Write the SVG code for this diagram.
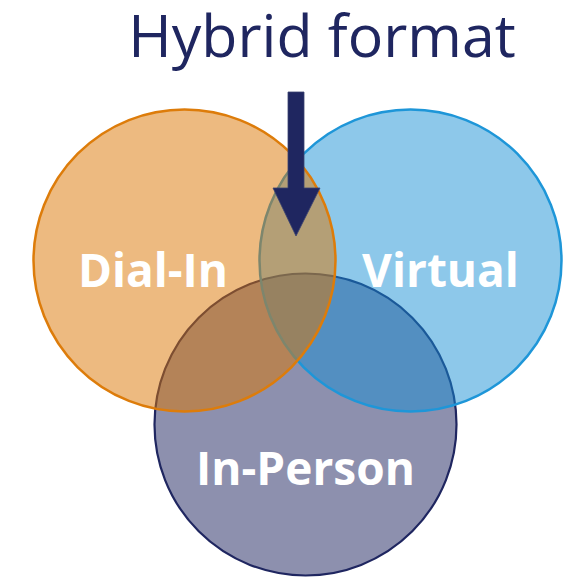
<svg xmlns="http://www.w3.org/2000/svg" width="567" height="577" viewBox="0 0 567 577">
<style>
.lbl{font-family:"Open Sans","Noto Sans","DejaVu Sans",sans-serif;font-weight:bold;font-size:46px;fill:#FFFFFF;text-anchor:middle}
.title{font-family:"Open Sans","Noto Sans","DejaVu Sans",sans-serif;font-size:59px;fill:#1F2660;text-anchor:middle}
</style>
<rect width="567" height="577" fill="#FFFFFF"/>
<g id="in-person">
<circle cx="305.5" cy="424.5" r="151" fill="#1F2660" fill-opacity="0.51" stroke="#1F2660" stroke-width="2.2"/>
</g>
<g id="virtual">
<circle cx="410.5" cy="260.5" r="151" fill="#168FD4" fill-opacity="0.49" stroke="#1E96D8" stroke-width="2.5"/>
</g>
<g id="dial-in">
<circle cx="184.5" cy="260.5" r="151" fill="#DB7501" fill-opacity="0.5" stroke="#DD7C0A" stroke-width="2.5"/>
</g>
<g id="labels">
<text class="lbl" x="153" y="287">Dial-In</text>
<text class="lbl" x="440.5" y="287">Virtual</text>
<text class="lbl" x="305.5" y="485">In-Person</text>
</g>
<g id="title">
<text class="title" x="322" y="57">Hybrid format</text>
</g>
<g id="connectors">
<path d="M288,92 H304 V188 H320 L296,236 L273,188 H288 Z" fill="#1F2660" stroke="#3A4270" stroke-width="0.8"/>
</g>
</svg>
